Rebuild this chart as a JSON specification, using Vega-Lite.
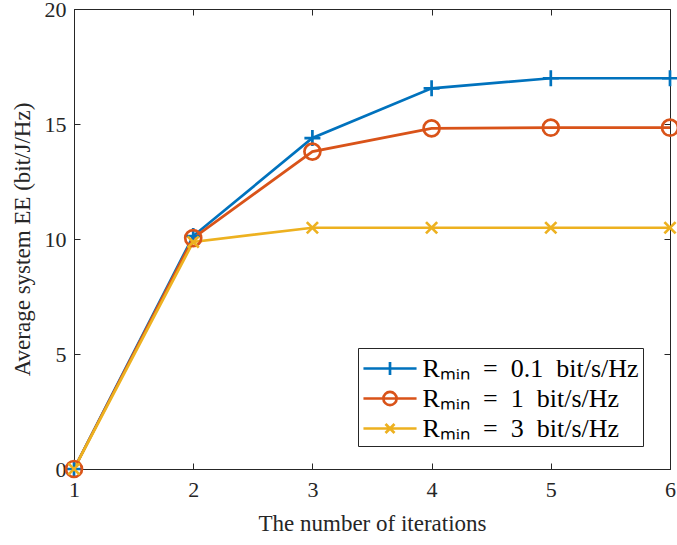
{
  "$schema": "https://vega.github.io/schema/vega-lite/v6.json",
  "width": 596,
  "height": 460,
  "autosize": {"type": "none"},
  "padding": {"left": 74, "top": 9, "right": 7, "bottom": 76},
  "background": "white",
  "config": {
    "view": {"stroke": "#262626", "strokeWidth": 1},
    "font": "Liberation Serif",
    "axis": {
      "grid": false,
      "domainColor": "#262626",
      "tickColor": "#262626",
      "labelColor": "#262626",
      "titleColor": "#262626",
      "labelFont": "Liberation Serif",
      "titleFont": "Liberation Serif",
      "labelFontSize": 22,
      "titleFontSize": 23,
      "titleFontWeight": "normal",
      "tickSize": -6,
      "labelFlush": false
    }
  },
  "data": {
    "values": [
      {"iter": 1, "ee": 0, "s": "Rₘᵢₙ\u2002=\u20020.1\u2002bit/s/Hz"},
      {"iter": 2, "ee": 10.13, "s": "Rₘᵢₙ\u2002=\u20020.1\u2002bit/s/Hz"},
      {"iter": 3, "ee": 14.39, "s": "Rₘᵢₙ\u2002=\u20020.1\u2002bit/s/Hz"},
      {"iter": 4, "ee": 16.55, "s": "Rₘᵢₙ\u2002=\u20020.1\u2002bit/s/Hz"},
      {"iter": 5, "ee": 16.99, "s": "Rₘᵢₙ\u2002=\u20020.1\u2002bit/s/Hz"},
      {"iter": 6, "ee": 16.99, "s": "Rₘᵢₙ\u2002=\u20020.1\u2002bit/s/Hz"},
      {"iter": 1, "ee": 0, "s": "Rₘᵢₙ\u2002=\u20021\u2002bit/s/Hz"},
      {"iter": 2, "ee": 10.04, "s": "Rₘᵢₙ\u2002=\u20021\u2002bit/s/Hz"},
      {"iter": 3, "ee": 13.8, "s": "Rₘᵢₙ\u2002=\u20021\u2002bit/s/Hz"},
      {"iter": 4, "ee": 14.81, "s": "Rₘᵢₙ\u2002=\u20021\u2002bit/s/Hz"},
      {"iter": 5, "ee": 14.84, "s": "Rₘᵢₙ\u2002=\u20021\u2002bit/s/Hz"},
      {"iter": 6, "ee": 14.84, "s": "Rₘᵢₙ\u2002=\u20021\u2002bit/s/Hz"},
      {"iter": 1, "ee": 0, "s": "Rₘᵢₙ\u2002=\u20023\u2002bit/s/Hz"},
      {"iter": 2, "ee": 9.87, "s": "Rₘᵢₙ\u2002=\u20023\u2002bit/s/Hz"},
      {"iter": 3, "ee": 10.49, "s": "Rₘᵢₙ\u2002=\u20023\u2002bit/s/Hz"},
      {"iter": 4, "ee": 10.49, "s": "Rₘᵢₙ\u2002=\u20023\u2002bit/s/Hz"},
      {"iter": 5, "ee": 10.49, "s": "Rₘᵢₙ\u2002=\u20023\u2002bit/s/Hz"},
      {"iter": 6, "ee": 10.49, "s": "Rₘᵢₙ\u2002=\u20023\u2002bit/s/Hz"}
    ]
  },
  "resolve": {"axis": {"x": "independent", "y": "independent"}},
  "layer": [
    {
      "mark": {"type": "line", "strokeWidth": 2.7},
      "encoding": {
        "x": {
          "field": "iter", "type": "quantitative",
          "scale": {"domain": [1, 6], "nice": false, "zero": false},
          "axis": {"orient": "bottom", "values": [1, 2, 3, 4, 5, 6], "title": "The number of iterations", "titlePadding": 12, "labelPadding": 16}
        },
        "y": {
          "field": "ee", "type": "quantitative",
          "scale": {"domain": [0, 20], "nice": false},
          "axis": {"orient": "left", "values": [0, 5, 10, 15, 20], "title": "Average system EE (bit/J/Hz)", "titlePadding": 10, "labelPadding": 14}
        },
        "color": {
          "field": "s", "type": "nominal",
          "scale": {"domain": ["Rₘᵢₙ\u2002=\u20020.1\u2002bit/s/Hz", "Rₘᵢₙ\u2002=\u20021\u2002bit/s/Hz", "Rₘᵢₙ\u2002=\u20023\u2002bit/s/Hz"], "range": ["#0072BD", "#D95319", "#EDB120"]},
          "legend": {
            "title": null,
            "orient": "none",
            "legendX": 284,
            "legendY": 339,
            "fillColor": "white",
            "strokeColor": "#262626",
            "padding": 4,
            "cornerRadius": 0,
            "labelFont": "Liberation Serif",
            "labelFontSize": 26,
            "labelColor": "#000000",
            "labelLimit": 400,
            "labelOffset": 16,
            "symbolSize": 900,
            "symbolOffset": 11.5,
            "symbolStrokeWidth": 2.7,
            "rowPadding": 0,
            "encode": {
              "symbols": {
                "update": {
                  "shape": {"signal": "indexof(datum.value, '0.1') >= 0 ? 'M-1.77,0H1.77M0,-0.43V0.43' : (indexof(datum.value, '3') >= 0 ? 'M-1.77,0H1.77M-0.3,-0.3L0.3,0.3M-0.3,0.3L0.3,-0.3' : 'M-1.77,0H1.77M-0.44,0A0.44,0.44 0 1,0 0.44,0A0.44,0.44 0 1,0 -0.44,0')"},
                  "fill": {"value": "transparent"},
                  "strokeWidth": {"value": 2.7}
                }
              }
            }
          }
        }
      }
    },
    {
      "transform": [{"filter": "indexof(datum.s, '0.1') >= 0"}],
      "mark": {"type": "point", "filled": false, "strokeWidth": 2.7, "opacity": 1, "shape": "M-1,0H1M0,-1V1", "size": 256},
      "encoding": {
        "x": {
          "field": "iter", "type": "quantitative",
          "axis": {"orient": "top", "values": [1, 2, 3, 4, 5, 6], "labels": false, "title": null, "domain": false}
        },
        "y": {
          "field": "ee", "type": "quantitative",
          "axis": {"orient": "right", "values": [0, 5, 10, 15, 20], "labels": false, "title": null, "domain": false}
        },
        "color": {"field": "s", "type": "nominal", "legend": null}
      }
    },
    {
      "transform": [{"filter": "indexof(datum.s, '0.1') < 0 && indexof(datum.s, '3') < 0"}],
      "mark": {"type": "point", "filled": false, "strokeWidth": 2.7, "opacity": 1, "shape": "circle", "size": 256},
      "encoding": {
        "x": {"field": "iter", "type": "quantitative", "axis": null},
        "y": {"field": "ee", "type": "quantitative", "axis": null},
        "color": {"field": "s", "type": "nominal", "legend": null}
      }
    },
    {
      "transform": [{"filter": "indexof(datum.s, '3') >= 0"}],
      "mark": {"type": "point", "filled": false, "strokeWidth": 2.7, "opacity": 1, "shape": "M-0.7,-0.7L0.7,0.7M-0.7,0.7L0.7,-0.7", "size": 256},
      "encoding": {
        "x": {"field": "iter", "type": "quantitative", "axis": null},
        "y": {"field": "ee", "type": "quantitative", "axis": null},
        "color": {"field": "s", "type": "nominal", "legend": null}
      }
    }
  ]
}
